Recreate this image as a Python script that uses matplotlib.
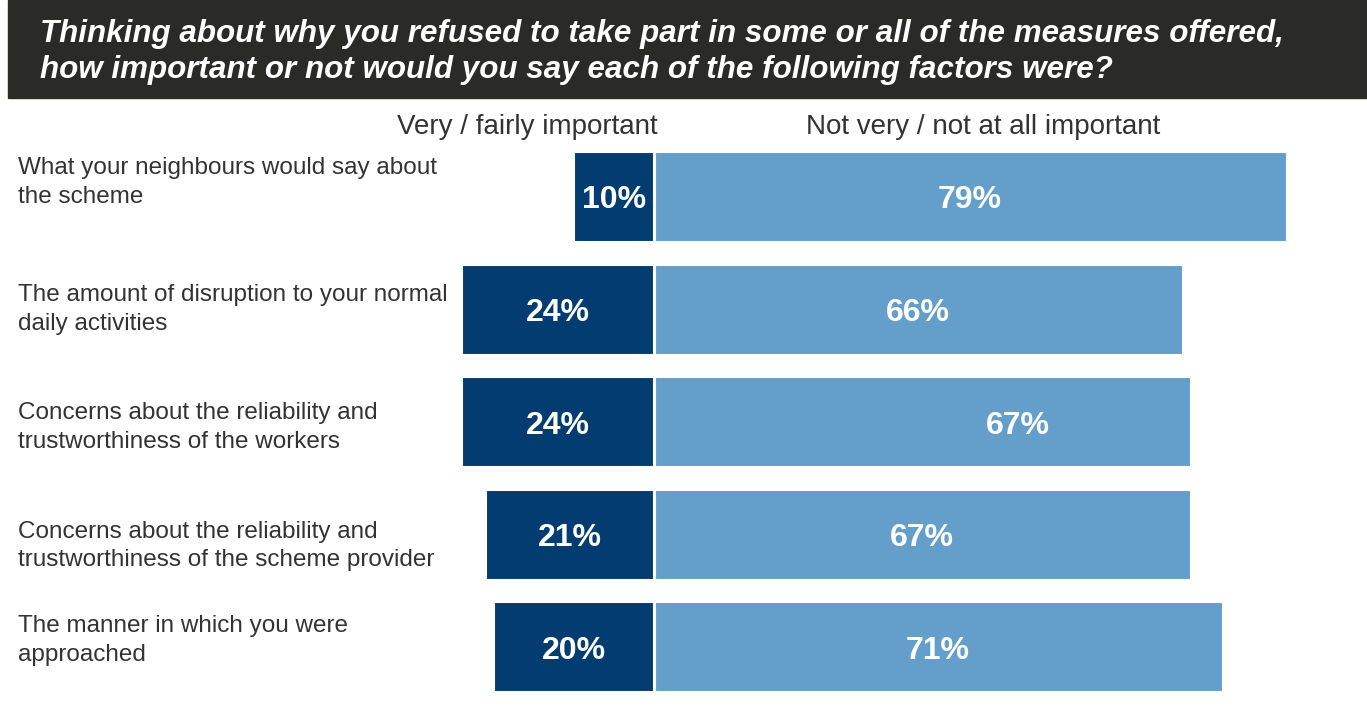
import matplotlib.pyplot as plt
from matplotlib.patches import Rectangle

plt.rcParams['font.family'] = ['Liberation Sans', 'DejaVu Sans']

# data
categories = [
    'What your neighbours would say about\nthe scheme',
    'The amount of disruption to your normal\ndaily activities',
    'Concerns about the reliability and\ntrustworthiness of the workers',
    'Concerns about the reliability and\ntrustworthiness of the scheme provider',
    'The manner in which you were\napproached',
]
important = [10, 24, 24, 21, 20]
not_important = [79, 66, 67, 67, 71]
headers = ['Very / fairly important', 'Not very / not at all important']
title = ('Thinking about why you refused to take part in some or all of the measures offered,\n'
         'how important or not would you say each of the following factors were?')

dark = '#033c70'
light = '#639fca'
text_col = '#333333'

W, H = 1367, 711
fig = plt.figure(figsize=(W / 100, H / 100), dpi=100)

# title bar
fig.patches.append(Rectangle((8 / W, 1 - 98 / H), 1 - 8 / W, 98 / H,
                             transform=fig.transFigure, color='#2a2a26', zorder=0))
fig.text(40 / W, 1 - 52 / H, title, color='white', fontsize=22.6, fontweight='bold',
         style='italic', va='center', ha='left', linespacing=1.27)

ax = fig.add_axes([0, 0, 1, 1])
ax.set_facecolor('none')
px = 7.99  # pixels per percent
ax.set_xlim(-654 / px, (W - 654) / px)
row = 112.6
ax.set_ylim((H - 197) / row, -197 / row)
ax.axis('off')

ys = list(range(len(categories)))
ax.barh(ys, [-v for v in important], height=0.8, color=dark, edgecolor='white', linewidth=1.5)
ax.barh([y for y in ys], [v + 0.1 for v in not_important], left=0.1, height=0.8,
        color=light, edgecolor='white', linewidth=1.5)

# label offsets (the third light-blue label sits off centre in the original)
offsets = [0, 0, 12, 0, 0]
for y, a, b, off in zip(ys, important, not_important, offsets):
    ax.text(-a / 2, y + 0.03, f'{a}%', color='white', fontsize=23, fontweight='bold',
            ha='center', va='center')
    ax.text(b / 2 + off, y + 0.03, f'{b}%', color='white', fontsize=23, fontweight='bold',
            ha='center', va='center')

# category labels don't sit exactly on the bar centres
label_shift = [-0.13, 0, 0.045, 0.1, -0.06]
for y, c, s in zip(ys, categories, label_shift):
    ax.text(18 / W, y + s, c, transform=ax.get_yaxis_transform(), color=text_col,
            fontsize=17.5, ha='left', va='center', linespacing=1.39)

fig.text(527 / W, 1 - 127 / H, headers[0], color=text_col, fontsize=20, ha='center', va='center')
fig.text(983 / W, 1 - 127 / H, headers[1], color=text_col, fontsize=20, ha='center', va='center')

fig.savefig('out.png', dpi=100)
